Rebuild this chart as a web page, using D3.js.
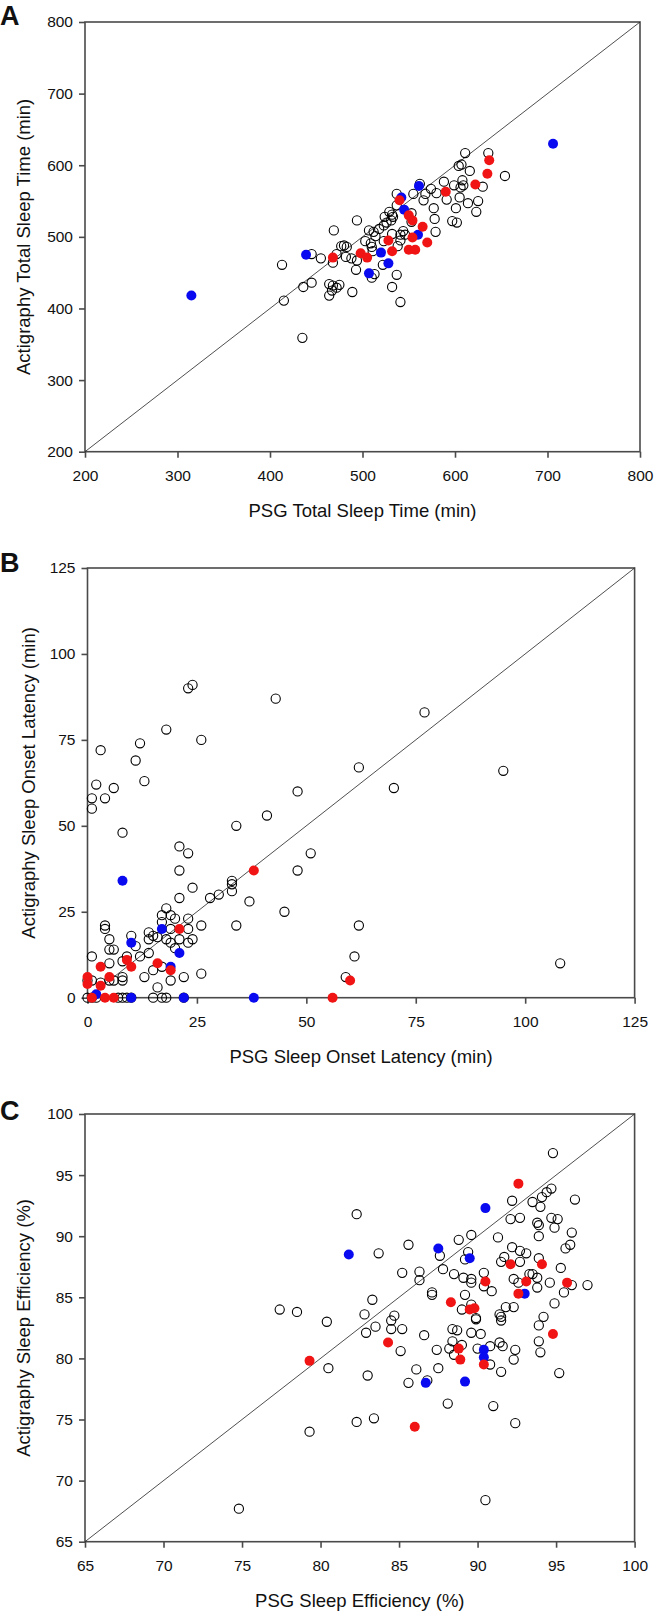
<!DOCTYPE html>
<html>
<head>
<meta charset="utf-8">
<script src="https://cdn.jsdelivr.net/npm/d3@7"></script>
<style>
  html, body { margin: 0; padding: 0; background: #fff; }
  svg { display: block; }
  text { font-family: "Liberation Sans", Arial, sans-serif; fill: #111; }
</style>
</head>
<body>
<svg id="chart" width="654" height="1613"></svg>
<script>
// ---------- Panel A: Total Sleep Time ----------
const tstDomain = [200, 800];
const tstTicks = [200, 300, 400, 500, 600, 700, 800];
const tstXTitle = "PSG Total Sleep Time (min)";
const tstYTitle = "Actigraphy Total Sleep Time (min)";
const tstOpen = [
  [611,617],[636,617],[654,585],[604,599],[607,601],[616,592],[630,570],[625,550],[623,535],[614,547],
  [605,555],[609,572],[606,569],[608,579],[599,572],[591,552],[588,577],[580,561],[574,567],[568,560],
  [566,551],[562,574],[555,560],[577,540],[578,525],[601,540],[597,522],[602,520],[579,507],[553,533],
  [553,521],[537,560],[537,544],[529,535],[533,528],[531,523],[526,520],[523,516],[518,511],[512,507],
  [514,501],[507,509],[494,523],[469,509],[503,494],[509,491],[510,486],[511,480],[523,494],[541,503],
  [544,508],[546,503],[541,495],[538,487],[532,504],[480,488],[483,486],[477,487],[472,476],[482,472],
  [488,470],[494,467],[493,454],[468,464],[455,470],[445,476],[445,436],[436,430],[413,461],[464,434],
  [468,432],[472,429],[475,433],[464,418],[467,425],[489,423],[415,411],[510,443],[513,448],[522,461],
  [537,447],[532,430],[541,409],[435,359],[524,528],[532,531]
];
const tstRed = [
  [637,607],[635,588],[622,573],[590,563],[540,551],[550,530],[554,523],[565,514],[554,499],[528,495],
  [570,492],[532,480],[550,482],[557,482],[498,477],[505,471],[468,471]
];
const tstBlue = [
  [706,630],[315,418],[439,475],[561,571],[542,555],[545,538],[520,478],[528,463],[507,449],[560,503]
];

// ---------- Panel B: Sleep Onset Latency ----------
const solDomain = [0, 125];
const solTicks = [0, 25, 50, 75, 100, 125];
const solXTitle = "PSG Sleep Onset Latency (min)";
const solYTitle = "Actigraphy Sleep Onset Latency (min)";
const solOpen = [
  [23,90],[24,91],[43,87],[77,83],[18,78],[26,75],[12,74],[3,72],[11,69],[62,67],
  [95,66],[13,63],[2,62],[6,61],[70,61],[48,60],[1,58],[4,58],[1,55],[41,53],
  [34,50],[8,48],[21,44],[23,42],[51,42],[21,37],[48,37],[33,34],[33,33],[33,31],
  [24,32],[30,30],[28,29],[21,29],[37,28],[45,25],[18,26],[17,24],[19,24],[23,23],
  [20,23],[17,22],[4,21],[4,20],[26,21],[34,21],[62,21],[23,20],[19,20],[5,17],
  [14,19],[14,17],[15,18],[16,17.6],[10,18],[11,15],[21,17],[24,17],[23,16],[18,17],
  [19,16],[20,14.4],[5,14],[6,14],[12,12],[14,13],[1,12],[61,12],[9,12],[8,10.6],
  [5,10],[108,10],[17,9],[15,8],[26,7],[22,6],[13,6],[8,6],[8,5],[1,5],
  [3,4.4],[5,5],[6,5],[16,3],[19,5],[59,6],[0,0],[1,0],[2,0],[7,0],
  [8,0],[9,0],[10,0],[15,0],[17,0],[18,0],[22,0],[0,5]
];
const solRed = [
  [38,37],[21,20],[9,11],[10,9],[16,10],[19,8],[3,9],[5,6],[0,6],[0,4],
  [3,3.5],[60,5],[56,0],[1,0],[4,0],[6,0]
];
const solBlue = [
  [8,34],[17,20],[10,16],[21,13],[19,9],[38,0],[22,0],[10,0],[2,1]
];

// ---------- Panel C: Sleep Efficiency ----------
const seDomain = [65, 100];
const seTicks = [65, 70, 75, 80, 85, 90, 95, 100];
const seXTitle = "PSG Sleep Efficiency (%)";
const seYTitle = "Actigraphy Sleep Efficiency (%)";
const seOpen = [
  [94.8,96.8],[96.2,93],[92.2,92.9],[93.5,92.8],[94.1,93.2],[94.4,93.6],[94.7,93.9],[94.0,92.4],[92.1,91.4],[92.7,91.5],
  [93.8,91.1],[93.9,90.9],[94.7,91.5],[95.1,91.4],[94.9,90.7],[93.9,90.0],[96.0,90.3],[95.6,89.0],[95.9,89.3],[91.3,89.9],
  [82.3,91.8],[83.7,88.6],[85.6,89.3],[87.6,88.4],[88.8,89.7],[89.6,90.1],[89.2,88.1],[89.4,88.7],[92.2,89.1],[92.7,88.8],
  [93.1,88.6],[91.5,87.9],[91.7,88.3],[92.7,87.9],[93.9,88.2],[95.3,87.4],[87.8,87.3],[85.2,87.0],[86.3,87.1],[86.3,86.4],
  [88.5,86.9],[89.1,86.6],[89.6,86.5],[89.6,86.2],[90.4,87.0],[90.4,85.9],[90.9,85.5],[92.3,86.5],[92.6,86.2],[93.3,86.9],
  [93.5,86.9],[93.8,86.6],[93.8,85.8],[94.6,86.2],[96.0,86.0],[97.0,86.0],[94.9,84.5],[95.5,85.4],[89.2,85.2],[87.1,85.4],
  [87.1,85.2],[89.0,84.0],[89.9,83.3],[89.6,84.4],[91.8,84.2],[92.3,84.2],[91.5,83.4],[91.4,83.6],[94.2,83.4],[93.9,82.7],
  [83.3,84.8],[82.8,83.6],[77.4,84.0],[78.5,83.8],[80.4,83.0],[84.5,83.1],[84.7,83.5],[83.5,82.6],[84.5,82.4],[85.2,82.4],
  [82.9,82.1],[88.4,82.4],[88.7,82.3],[86.6,81.9],[89.6,82.1],[80.5,79.2],[83.0,78.6],[85.1,80.6],[86.1,79.1],[85.6,78.0],
  [86.8,78.2],[87.4,80.7],[87.5,79.2],[88.2,80.8],[88.4,81.4],[88.5,80.3],[89.0,81.1],[90.0,80.8],[90.2,82.0],[90.8,81.0],
  [90.8,79.5],[91.5,78.9],[91.6,81.0],[91.4,81.3],[92.4,80.7],[92.3,79.9],[93.9,81.4],[94.0,80.5],[95.2,78.8],[88.1,76.3],
  [91.0,76.1],[82.3,74.8],[83.4,75.1],[79.3,74.0],[92.4,74.7],[90.5,68.4],[74.8,67.7],[91.5,83.1],[89.9,83.2]
];
const seRed = [
  [92.6,94.3],[92.1,87.7],[94.1,87.7],[90.5,86.3],[93.1,86.3],[95.7,86.2],[92.6,85.3],[88.3,84.6],[89.5,84.0],[89.8,84.1],
  [94.8,82.0],[84.3,81.3],[79.3,79.8],[88.8,80.8],[88.9,79.9],[90.4,79.5],[86.0,74.4]
];
const seBlue = [
  [90.5,92.3],[81.8,88.5],[87.5,89.0],[89.5,88.2],[93.0,85.3],[90.4,80.7],[90.4,80.1],[86.7,78.0],[89.2,78.1]
];

// ---------- Drawing ----------
const svg = d3.select("#chart");
const FRAME = "#4a4a4a";

const panels = [
  { letter: "A", domain: tstDomain, ticks: tstTicks, xTitle: tstXTitle, yTitle: tstYTitle,
    open: tstOpen, red: tstRed, blue: tstBlue,
    box: { l: 85, r: 640, t: 22, b: 451.7 }, letterY: 25, yTitleX: 30 },
  { letter: "B", domain: solDomain, ticks: solTicks, xTitle: solXTitle, yTitle: solYTitle,
    open: solOpen, red: solRed, blue: solBlue,
    box: { l: 87.5, r: 634.6, t: 568, b: 997.7 }, letterY: 572, yTitleX: 35 },
  { letter: "C", domain: seDomain, ticks: seTicks, xTitle: seXTitle, yTitle: seYTitle,
    open: seOpen, red: seRed, blue: seBlue,
    box: { l: 85, r: 634.6, t: 1114, b: 1541.7 }, letterY: 1120, yTitleX: 30 }
];

panels.forEach(p => {
  const x = d3.scaleLinear().domain(p.domain).range([p.box.l, p.box.r]);
  const y = d3.scaleLinear().domain(p.domain).range([p.box.b, p.box.t]);
  const g = svg.append("g");

  // x axis
  const xa = g.append("g").attr("transform", `translate(0,${p.box.b})`)
    .call(d3.axisBottom(x).tickValues(p.ticks).tickSize(6).tickPadding(12).tickFormat(d3.format("d")));
  // y axis
  const ya = g.append("g").attr("transform", `translate(${p.box.l},0)`)
    .call(d3.axisLeft(y).tickValues(p.ticks).tickSize(6).tickPadding(6).tickFormat(d3.format("d")));
  [xa, ya].forEach(a => {
    a.select(".domain").remove();
    a.selectAll(".tick line").attr("stroke", FRAME).attr("stroke-width", 1.6);
    a.selectAll(".tick text").attr("font-size", 15.5).attr("fill", "#111")
      .attr("font-family", '"Liberation Sans", Arial, sans-serif');
  });

  // frame
  g.append("rect")
    .attr("x", p.box.l).attr("y", p.box.t)
    .attr("width", p.box.r - p.box.l).attr("height", p.box.b - p.box.t)
    .attr("fill", "none").attr("stroke", FRAME).attr("stroke-width", 1.6);

  // identity line
  g.append("line")
    .attr("x1", x(p.domain[0])).attr("y1", y(p.domain[0]))
    .attr("x2", x(p.domain[1])).attr("y2", y(p.domain[1]))
    .attr("stroke", "#222").attr("stroke-width", 0.8);

  // points
  g.append("g").selectAll("circle").data(p.open).join("circle")
    .attr("cx", d => x(d[0])).attr("cy", d => y(d[1])).attr("r", 4.6)
    .attr("fill", "none").attr("stroke", "#000").attr("stroke-width", 1.1);
  g.append("g").selectAll("circle").data(p.blue).join("circle")
    .attr("cx", d => x(d[0])).attr("cy", d => y(d[1])).attr("r", 5)
    .attr("fill", "#0a0af0");
  g.append("g").selectAll("circle").data(p.red).join("circle")
    .attr("cx", d => x(d[0])).attr("cy", d => y(d[1])).attr("r", 5)
    .attr("fill", "#f01414");

  // titles
  g.append("text")
    .attr("x", (p.box.l + p.box.r) / 2).attr("y", p.box.b + 65)
    .attr("text-anchor", "middle").attr("font-size", 18.5)
    .text(p.xTitle);
  g.append("text")
    .attr("transform", `translate(${p.yTitleX},${(p.box.t + p.box.b) / 2}) rotate(-90)`)
    .attr("text-anchor", "middle").attr("font-size", 18.5)
    .text(p.yTitle);
  g.append("text")
    .attr("x", 0).attr("y", p.letterY)
    .attr("font-size", 27).attr("font-weight", "bold")
    .text(p.letter);
});
</script>
</body>
</html>
